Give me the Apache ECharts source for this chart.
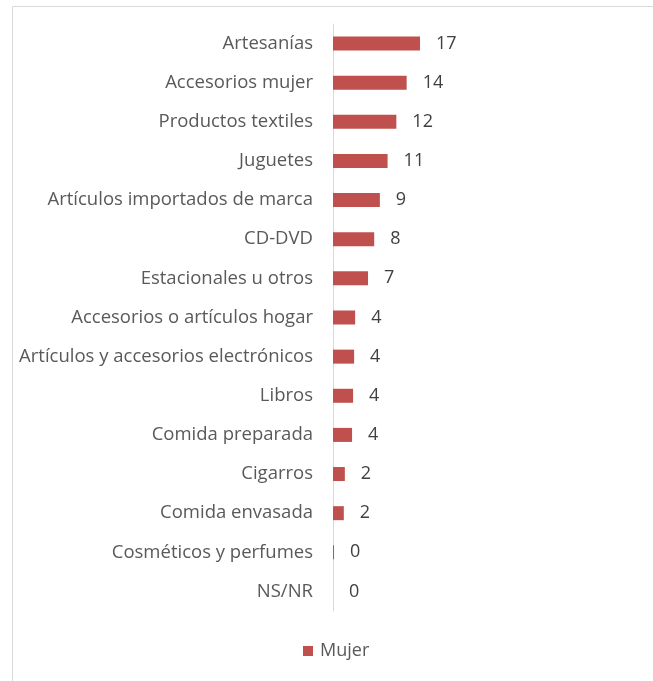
<!DOCTYPE html>
<html><head><meta charset="utf-8">
<script src="https://cdn.jsdelivr.net/npm/echarts@6/dist/echarts.min.js"></script>
<style>html,body{margin:0;padding:0;background:#fff}#c{width:653px;height:681px}</style>
</head><body><div id="c"></div>
<script>
const categories = ["Artesanías","Accesorios mujer","Productos textiles","Juguetes","Artículos importados de marca","CD-DVD","Estacionales u otros","Accesorios o artículos hogar","Artículos y accesorios electrónicos","Libros","Comida preparada","Cigarros","Comida envasada","Cosméticos y perfumes","NS/NR"];
const mujerValues = [16.9,14.3,12.3,10.6,9.1,8.0,6.8,4.3,4.1,3.9,3.7,2.3,2.1,0.2,0];
const seriesName = "Mujer";

const chart = echarts.init(document.getElementById('c'));
chart.setOption({
  animation:false,
  backgroundColor:'#fff',
  graphic:[{type:'rect',shape:{x:12.5,y:6.5,width:700,height:700},style:{fill:'none',stroke:'#d9d9d9',lineWidth:1}}],
  grid:{left:333,right:11,top:24,bottom:70,containLabel:false},
  legend:{data:[seriesName],left:303,top:642,padding:0,itemWidth:10,itemHeight:10,itemGap:10,icon:'rect',
    textStyle:{fontFamily:'Open Sans',fontSize:18,color:'#595959',padding:[0,0,0,2]}},
  xAxis:{type:'value',min:0,max:60,show:false},
  yAxis:{type:'category',data:categories,inverse:true,
    axisLine:{show:true,lineStyle:{color:'#d9d9d9',width:1}},
    axisTick:{show:false},
    axisLabel:{fontFamily:'Open Sans',fontSize:18.5,color:'#595959',margin:20}},
  series:[{name:seriesName,type:'bar',data:mujerValues,barWidth:14,
    itemStyle:{color:'#c0504d'},
    label:{show:true,position:'right',distance:16,fontFamily:'Open Sans',fontSize:18,color:'#404040',
      formatter:p=>Math.round(p.value)}}]
});
</script></body></html>
